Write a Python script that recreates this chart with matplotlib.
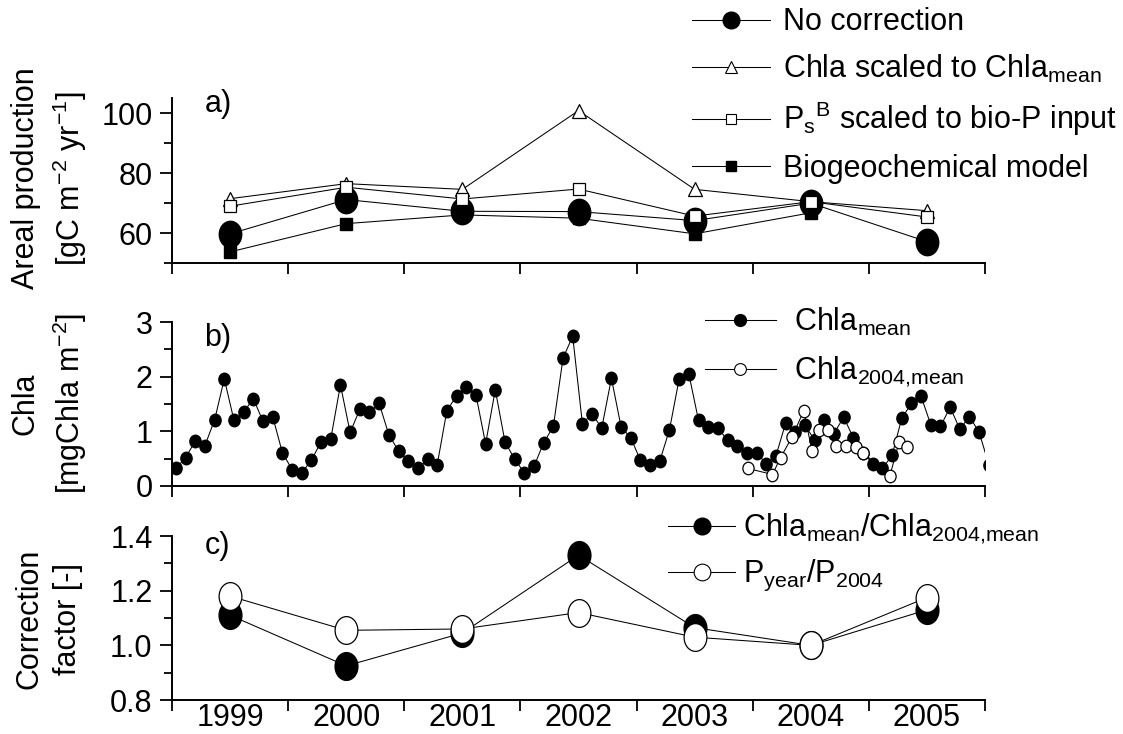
import numpy as np
import matplotlib
matplotlib.use('Agg')
import matplotlib.pyplot as plt
from matplotlib.path import Path
from matplotlib.lines import Line2D
from matplotlib.ticker import FixedLocator, NullFormatter, FixedFormatter

plt.rcParams['font.family'] = ['Liberation Sans', 'DejaVu Sans']
plt.rcParams['mathtext.default'] = 'regular'
plt.rcParams['font.size'] = 22
plt.rcParams['axes.linewidth'] = 1.4

# annual values, plotted at mid-year
years = [1999, 2000, 2001, 2002, 2003, 2004, 2005]
no_corr = [59.8, 71.2, 67.3, 67.2, 64.2, 70.0, 57.2]
chla_scaled = [71.5, 76.5, 74.6, 100.8, 74.6, 70.5, 67.5]
psb_scaled = [69.0, 75.3, 71.4, 74.7, 65.7, 70.5, 65.4]
biogeo = [53.8, 63.2, 66.1, 65.0, 59.8, 66.8]  # no 2005 run

# monthly Chla, Jan 1999 .. Jan 2006
chla_mean = [0.32, 0.52, 0.82, 0.74, 1.21, 1.96, 1.20, 1.35, 1.60, 1.18, 1.27, 0.61,
             0.30, 0.24, 0.47, 0.81, 0.86, 1.85, 0.98, 1.40, 1.35, 1.51, 0.94, 0.64,
             0.46, 0.32, 0.49, 0.39, 1.38, 1.65, 1.81, 1.67, 0.77, 1.76, 0.81, 0.49,
             0.24, 0.36, 0.79, 1.09, 2.34, 2.74, 1.14, 1.32, 1.06, 1.97, 1.08, 0.88,
             0.47, 0.38, 0.46, 1.03, 1.96, 2.05, 1.20, 1.08, 1.06, 0.84, 0.74, 0.60,
             0.60, 0.41, 0.55, 1.15, 0.98, 1.11, 0.84, 1.21, 0.96, 1.26, 0.88, 0.61,
             0.41, 0.32, 0.56, 1.24, 1.51, 1.64, 1.12, 1.09, 1.44, 1.04, 1.27, 0.98,
             0.39]
# 2004 sampling dates (decimal year) and Chla
chla04_time = [2003.96, 2004.17, 2004.24, 2004.34, 2004.44, 2004.51, 2004.57, 2004.65,
               2004.72, 2004.80, 2004.89, 2004.95, 2005.18, 2005.26, 2005.33]
chla04 = [0.32, 0.21, 0.52, 0.90, 1.38, 0.64, 1.03, 1.02, 0.74, 0.74, 0.72, 0.61,
          0.18, 0.80, 0.72]

corr_chla = [1.11, 0.925, 1.045, 1.33, 1.065, 1.0, 1.13]
corr_p = [1.18, 1.055, 1.06, 1.12, 1.03, 1.0, 1.175]

xm = np.array(years) + 0.5
tm = 1999 + (np.arange(len(chla_mean)) + 0.4) / 12.0


def oval(ratio):
    c = Path.unit_circle()
    return Path(c.vertices * [ratio, 1.0], c.codes)


fig = plt.figure(figsize=(11.23, 7.34), dpi=100)
L, W = 0.1532, 0.7239
ax1 = fig.add_axes([L, 0.6413, W, 0.2252])
ax2 = fig.add_axes([L, 0.3379, W, 0.2234])
ax3 = fig.add_axes([L, 0.0463, W, 0.2234])

kw = dict(color='k', lw=0.75)
ax1.plot(xm[:6], biogeo, marker='s', ms=8, mfc='k', mec='k', zorder=2, **kw)
ax1.plot(xm, no_corr, marker=oval(0.85), ms=19, mfc='k', mec='k', zorder=3, **kw)
ax1.plot(xm, chla_scaled, marker='^', ms=9.5, mfc='w', mec='k', mew=0.9, zorder=4, **kw)
ax1.plot(xm, psb_scaled, marker='s', ms=8, mfc='w', mec='k', mew=0.9, zorder=5, **kw)
ax1.set_ylim(50, 105)
ax1.yaxis.set_major_locator(FixedLocator([60, 80, 100]))
ax1.yaxis.set_minor_locator(FixedLocator([50, 70, 90]))

ax2.plot(tm, chla_mean, marker=oval(0.9), ms=9, mfc='k', mec='k', zorder=3, **kw)
ax2.plot(chla04_time, chla04, marker=oval(0.9), ms=9, mfc='w', mec='k', mew=0.9, zorder=4, **kw)
ax2.set_ylim(0, 3)
ax2.yaxis.set_major_locator(FixedLocator([0, 1, 2, 3]))
ax2.yaxis.set_minor_locator(FixedLocator([0.5, 1.5, 2.5]))

ax3.plot(xm, corr_chla, marker=oval(0.82), ms=20, mfc='k', mec='k', zorder=3, **kw)
ax3.plot(xm, corr_p, marker=oval(0.82), ms=20, mfc='w', mec='k', mew=0.9, zorder=4, **kw)
ax3.set_ylim(0.8, 1.4)
ax3.yaxis.set_major_locator(FixedLocator([0.8, 1.0, 1.2, 1.4]))
ax3.yaxis.set_minor_locator(FixedLocator([0.9, 1.1, 1.3]))
ax3.yaxis.set_major_formatter(FixedFormatter(['0.8', '1.0', '1.2', '1.4']))

for ax, lab, ly in zip([ax1, ax2, ax3], ['a)', 'b)', 'c)'], [0.965, 0.90, 0.94]):
    ax.set_xlim(1999, 2006)
    ax.spines['top'].set_visible(False)
    ax.spines['right'].set_visible(False)
    ax.xaxis.set_major_locator(FixedLocator(range(1999, 2007)))
    ax.xaxis.set_minor_locator(FixedLocator(xm))
    ax.xaxis.set_major_formatter(NullFormatter())
    ax.tick_params(axis='x', which='major', direction='out', length=8, width=1.3)
    ax.tick_params(axis='x', which='minor', length=0, pad=2.5)
    ax.tick_params(axis='y', which='major', direction='out', length=9, width=1.3, pad=5)
    ax.tick_params(axis='y', which='minor', direction='out', length=5.5, width=1.3)
    ax.text(0.04, ly, lab, transform=ax.transAxes, ha='left', va='center')

ax3.xaxis.set_minor_formatter(FixedFormatter([str(y) for y in years]))
ax1.xaxis.set_minor_formatter(NullFormatter())
ax2.xaxis.set_minor_formatter(NullFormatter())

# y axis titles
ykw = dict(rotation=90, ha='center', va='center', multialignment='center', linespacing=1.35)
fig.text(0.0445, 0.757, 'Areal production\n[gC m$^{-2}$ yr$^{-1}$]', **ykw)
fig.text(0.0445, 0.45, 'Chla\n[mgChla m$^{-2}$]', **ykw)
fig.text(0.0432, 0.157, 'Correction\nfactor [-]', **ykw)

# legends
lw = dict(color='k', lw=0.75)
h1 = [Line2D([], [], marker='o', ms=12, mfc='k', mec='k', **lw),
      Line2D([], [], marker='^', ms=8, mfc='w', mec='k', mew=0.8, **lw),
      Line2D([], [], marker='s', ms=6.5, mfc='w', mec='k', mew=0.8, **lw),
      Line2D([], [], marker='s', ms=6.5, mfc='k', mec='k', **lw)]
fig.legend(h1, ['No correction', 'Chla scaled to Chla$_{mean}$',
                'P$_s$$^B$ scaled to bio-P input', 'Biogeochemical model'],
           loc='upper left', bbox_to_anchor=(0.616, 0.99), frameon=False,
           borderpad=0, borderaxespad=0, handlelength=2.55, handletextpad=0.42,
           labelspacing=0.5)

h2 = [Line2D([], [], marker='o', ms=8.5, mfc='k', mec='k', **lw),
      Line2D([], [], marker='o', ms=8.5, mfc='w', mec='k', mew=0.8, **lw)]
fig.legend(h2, ['Chla$_{mean}$', 'Chla$_{2004{,}mean}$'],
           loc='upper left', bbox_to_anchor=(0.628, 0.583), frameon=False,
           borderpad=0, borderaxespad=0, handlelength=2.3, handletextpad=0.6,
           labelspacing=0.55)

h3 = [Line2D([], [], marker='o', ms=12, mfc='k', mec='k', **lw),
      Line2D([], [], marker='o', ms=12, mfc='w', mec='k', mew=0.8, **lw)]
fig.legend(h3, ['Chla$_{mean}$/Chla$_{2004{,}mean}$', 'P$_{year}$/P$_{2004}$'],
           loc='upper left', bbox_to_anchor=(0.595, 0.303), frameon=False,
           borderpad=0, borderaxespad=0, handlelength=2.2, handletextpad=0.25,
           labelspacing=0.4)

fig.savefig('out.png', dpi=100)
